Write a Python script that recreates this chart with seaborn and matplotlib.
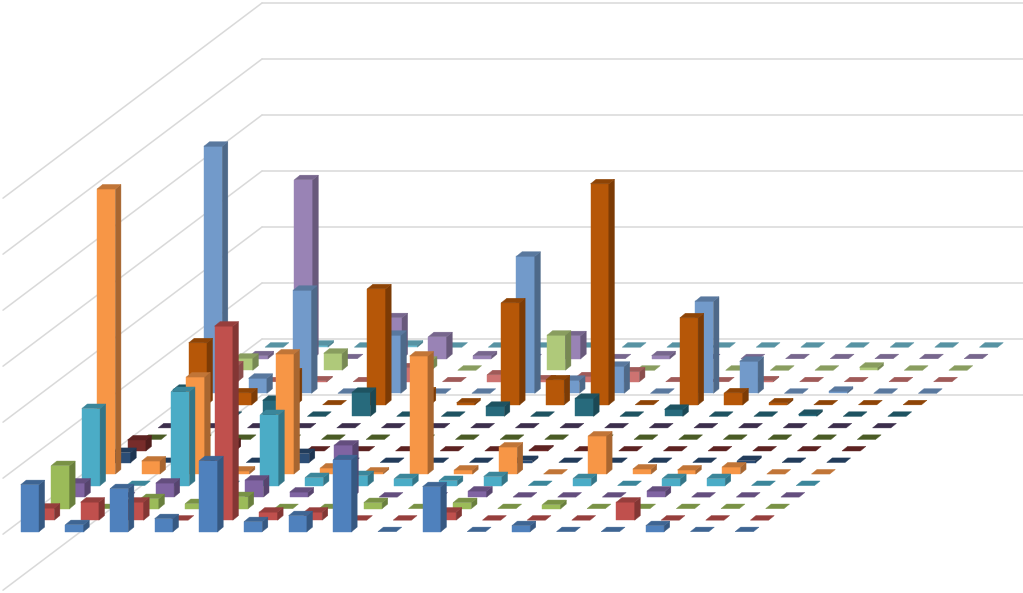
import matplotlib
matplotlib.use("Agg")
import matplotlib.pyplot as plt
import numpy as np
import seaborn as sns

# one list per series, front row first, 17 categories each
series_01 = [47, 7, 43, 13, 71, 10, 16, 72, 0, 45, 0, 6, 0, 0, 6, 0, 0]
series_02 = [12, 18, 18, 0, 194, 8, 8, 0, 0, 8, 0, 0, 0, 18, 0, 0, 0]
series_03 = [43, 0, 10, 5, 12, 0, 0, 6, 0, 6, 0, 4, 0, 0, 0, 0, 0]
series_04 = [14, 0, 14, 0, 17, 5, 52, 0, 0, 6, 0, 0, 0, 6, 0, 0, 0]
series_05 = [77, 0, 94, 0, 71, 8, 10, 7, 5, 9, 0, 7, 0, 7, 7, 0, 0]
series_06 = [285, 13, 97, 3, 120, 6, 2, 118, 4, 27, 0, 38, 5, 4, 7, 0, 0]
series_07 = [10, 0, 0, 0, 9, 0, 0, 0, 0, 2, 0, 0, 0, 0, 2, 0, 0]
series_08 = [11, 0, 8, 0, 0, 0, 0, 0, 0, 1, 0, 0, 0, 0, 0, 0, 0]
series_09 = [0] * 17
series_10 = [0] * 17
series_11 = [27, 0, 16, 0, 24, 0, 0, 10, 0, 18, 0, 7, 0, 0, 2, 0, 0]
series_12 = [62, 12, 32, 0, 116, 13, 2, 102, 25, 221, 0, 87, 12, 2, 0, 0, 0]
series_13 = [247, 15, 103, 0, 58, 0, 0, 137, 13, 27, 0, 92, 32, 0, 2, 0, 0]
series_14 = [16, 0, 1, 0, 14, 0, 7, 2, 5, 10, 0, 0, 1, 0, 0, 0, 0]
series_15 = [12, 0, 17, 0, 9, 0, 0, 35, 0, 0, 0, 0, 0, 0, 3, 0, 0]
series_16 = [3, 179, 0, 41, 22, 3, 0, 23, 0, 3, 0, 0, 0, 0, 0, 0, 0]
series_17 = [0, 2, 0, 2, 0, 0, 0, 0, 0, 0, 0, 0, 0, 0, 0, 0, 0]
all_series = [series_01, series_02, series_03, series_04, series_05, series_06,
              series_07, series_08, series_09, series_10, series_11, series_12,
              series_13, series_14, series_15, series_16, series_17]

series_colors = ['#4F81BD', '#C0504D', '#9BBB59', '#8064A2', '#4BACC6', '#F79646',
                 '#2C4D75', '#772C2A', '#5F7530', '#4D3B62', '#276A7C', '#B65708',
                 '#729ACA', '#CD7371', '#AFC97A', '#9983B5', '#6FBDD1']
grid_levels = [-56, 0, 56, 112, 168, 224, 280, 336]

sns.set_theme(style='white')
palette = sns.color_palette(series_colors)

# oblique projection of the floor
x0, y0 = 32.5, 531.7
col_dx = 44.65
row_dx, row_dy = 15.27, -11.53
bar_w = 18.3
depth_x, depth_y = 5.6, -4.6
wall_x, wall_y = 262, 339


def shade(color, f):
    return tuple(np.array(color) * f)


def draw_bar(ax, col, row, value, color):
    xl = x0 + col_dx * col + row_dx * row - 11.8
    yb = y0 + row_dy * row
    xr = xl + bar_w
    yt = yb - value
    top = shade(color, 0.78)
    if value > 0:
        ax.fill([xl, xr, xr, xl], [yb, yb, yt, yt], color=color, lw=0.3, zorder=3)
        ax.fill([xr, xr + depth_x, xr + depth_x, xr], [yb, yb + depth_y, yt + depth_y, yt],
                color=shade(color, 0.68), lw=0.3, zorder=3)
    ax.fill([xl, xr, xr + depth_x, xl + depth_x], [yt, yt, yt + depth_y, yt + depth_y],
            color=top, lw=0.3, zorder=3)


fig = plt.figure(figsize=(10.23, 5.93), dpi=100)
ax = fig.add_axes([0, 0, 1, 1])
ax.set_xlim(0, 1023)
ax.set_ylim(593, 0)
ax.axis('off')

# back wall and side wall gridlines
for level in grid_levels:
    y = wall_y - level
    ax.plot([wall_x, 1023], [y, y], color='#D9D9D9', lw=1.1, zorder=1)
    run = wall_x - 3
    ax.plot([wall_x, wall_x - run], [y, y + run / 1.327],
            color='#D9D9D9', lw=1.1, zorder=1)

# back rows first so the front ones sit on top
for row in range(len(all_series) - 1, -1, -1):
    for col, value in enumerate(all_series[row]):
        draw_bar(ax, col, row, value, palette[row])

fig.savefig('out.png', dpi=100)
